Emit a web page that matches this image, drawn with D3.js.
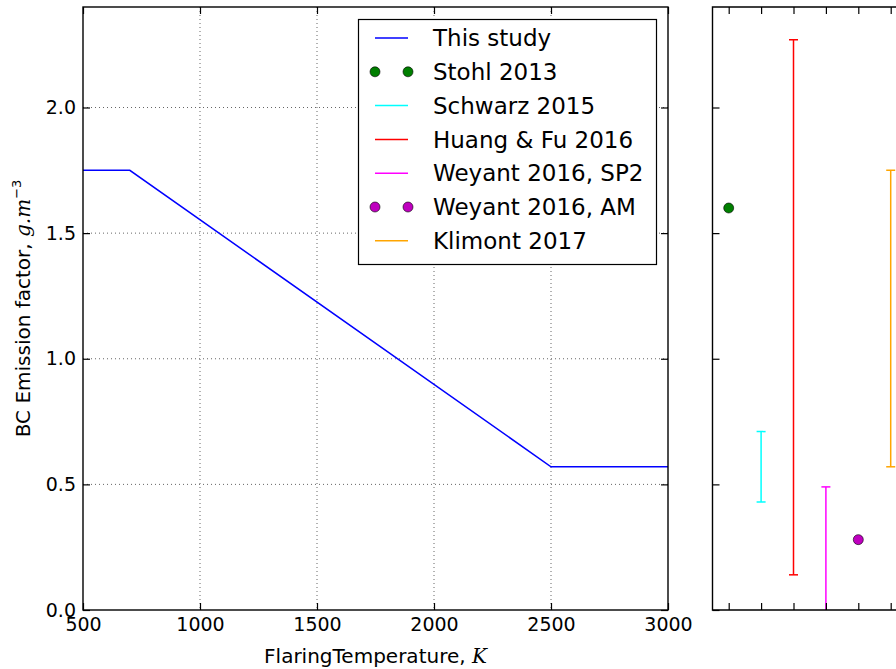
<!DOCTYPE html>
<html>
<head>
<meta charset="utf-8">
<script src="https://cdn.jsdelivr.net/npm/d3@7"></script>
<style>
  html, body { margin: 0; padding: 0; background: #fff; }
  svg { display: block; font-family: "DejaVu Sans", sans-serif; }
</style>
</head>
<body>
<div id="chart"></div>
<script>
// "This study" curve
const studyTemp = [500, 700, 2500, 3000];
const studyEF   = [1.75, 1.75, 0.57, 0.57];

// literature values (right panel), x position = index of reference
const pointNames  = ["Stohl 2013", "Weyant 2016, AM"];
const pointPos    = [1, 5];
const pointValues = [1.60, 0.28];
const pointColors = ["#007f00", "#bf00bf"];

const rangeNames  = ["Schwarz 2015", "Huang & Fu 2016", "Weyant 2016, SP2", "Klimont 2017"];
const rangePos    = [2, 3, 4, 6];
const rangeLow    = [0.43, 0.14, -0.05, 0.57];
const rangeHigh   = [0.71, 2.27, 0.49, 1.75];
const rangeColors = ["#00ffff", "#ff0000", "#ff00ff", "#ffa500"];

// legend order
const legendLabels = ["This study", "Stohl 2013", "Schwarz 2015", "Huang & Fu 2016",
                      "Weyant 2016, SP2", "Weyant 2016, AM", "Klimont 2017"];
const legendColors = ["#0000ff", "#007f00", "#00ffff", "#ff0000", "#ff00ff", "#bf00bf", "#ffa500"];
const legendKinds  = ["line", "point", "line", "line", "line", "point", "line"];

const xTicks = [500, 1000, 1500, 2000, 2500, 3000];
const yTicks = [0.0, 0.5, 1.0, 1.5, 2.0];
const refTicks = [1, 2, 3, 4, 5, 6];

const W = 896, H = 669;
const svg = d3.select("#chart").append("svg")
  .attr("width", W).attr("height", H);

const m = { left: 83, right: 668, top: 7, bottom: 610 };
const x = d3.scaleLinear().domain([500, 3000]).range([m.left, m.right]);
const y = d3.scaleLinear().domain([0, 2.4]).range([m.bottom, m.top]);

const r = { left: 712.5 };
const xr = d3.scaleLinear().domain([0.5, 7.5]).range([r.left, r.left + 7 * 32.4]);

const tickLen = 7;
const spine = "#000";

// ----- left panel grid -----
const grid = svg.append("g")
  .attr("stroke", "#666")
  .attr("stroke-width", 1)
  .attr("stroke-dasharray", "1,3");

grid.selectAll("line.gx")
  .data(xTicks.slice(1, -1))
  .enter().append("line")
  .attr("x1", d => x(d)).attr("x2", d => x(d))
  .attr("y1", m.top).attr("y2", m.bottom);

grid.selectAll("line.gy")
  .data(yTicks.slice(1))
  .enter().append("line")
  .attr("x1", m.left).attr("x2", m.right)
  .attr("y1", d => y(d)).attr("y2", d => y(d));

// ----- this study line -----
const line = d3.line()
  .x((d, i) => x(studyTemp[i]))
  .y(d => y(d));

svg.append("path")
  .datum(studyEF)
  .attr("d", line)
  .attr("fill", "none")
  .attr("stroke", "#0000ff")
  .attr("stroke-width", 1.5);

// ----- left panel axes (classic style, ticks inside on all sides) -----
const axB = svg.append("g")
  .attr("transform", `translate(0,${m.bottom})`)
  .call(d3.axisBottom(x).tickValues(xTicks).tickSize(-tickLen).tickPadding(8)
    .tickFormat(d3.format("d")).tickSizeOuter(0));
const axT = svg.append("g")
  .attr("transform", `translate(0,${m.top})`)
  .call(d3.axisTop(x).tickValues(xTicks).tickSize(-tickLen).tickFormat("").tickSizeOuter(0));
const axL = svg.append("g")
  .attr("transform", `translate(${m.left},0)`)
  .call(d3.axisLeft(y).tickValues(yTicks).tickSize(-tickLen).tickPadding(7)
    .tickFormat(d3.format(".1f")).tickSizeOuter(0));
const axR = svg.append("g")
  .attr("transform", `translate(${m.right},0)`)
  .call(d3.axisRight(y).tickValues(yTicks).tickSize(-tickLen).tickFormat("").tickSizeOuter(0));

[axB, axT, axL, axR].forEach(a => {
  a.select(".domain").remove();
  a.selectAll(".tick line").attr("stroke", spine).attr("stroke-width", 1.2);
  a.selectAll("text").attr("fill", "#000").attr("font-size", 19)
    .attr("font-family", "DejaVu Sans");
});

svg.append("rect")
  .attr("x", m.left).attr("y", m.top)
  .attr("width", m.right - m.left).attr("height", m.bottom - m.top)
  .attr("fill", "none").attr("stroke", spine).attr("stroke-width", 1.4);

// ----- axis labels -----
const xl = svg.append("text")
  .attr("x", (m.left + m.right) / 2)
  .attr("y", 663)
  .attr("text-anchor", "middle")
  .attr("font-size", 20);
xl.append("tspan").text("FlaringTemperature, ");
xl.append("tspan").attr("font-family", "DejaVu Serif").attr("font-style", "italic").text("K");

const yl = svg.append("text")
  .attr("transform", `translate(30,${(m.top + m.bottom) / 2}) rotate(-90)`)
  .attr("text-anchor", "middle")
  .attr("font-size", 20);
yl.append("tspan").text("BC Emission factor, ");
yl.append("tspan").attr("font-family", "DejaVu Serif").attr("font-style", "italic").text("g.m");
yl.append("tspan").attr("font-size", 13).attr("dy", "-0.7em").text("−3");

// ----- legend -----
const lg = svg.append("g");
lg.append("rect")
  .attr("x", 358.5).attr("y", 19.5)
  .attr("width", 298).attr("height", 245)
  .attr("fill", "#fff").attr("stroke", "#000").attr("stroke-width", 1.2);

const rowY = i => 38 + i * 33.8;
legendLabels.forEach((lab, i) => {
  const cy = rowY(i);
  if (legendKinds[i] === "line") {
    lg.append("line")
      .attr("x1", 375).attr("x2", 408)
      .attr("y1", cy).attr("y2", cy)
      .attr("stroke", legendColors[i]).attr("stroke-width", 1.5);
  } else {
    [375, 408].forEach(px => {
      lg.append("circle")
        .attr("cx", px).attr("cy", cy).attr("r", 5)
        .attr("fill", legendColors[i]).attr("stroke", "#000").attr("stroke-width", 0.6);
    });
  }
  lg.append("text")
    .attr("x", 433).attr("y", cy)
    .attr("dy", "0.36em")
    .attr("font-size", 23)
    .attr("fill", "#000")
    .text(lab);
});

// ----- right panel -----
svg.append("clipPath").attr("id", "rclip")
  .append("rect").attr("x", r.left).attr("y", m.top)
  .attr("width", W - r.left).attr("height", m.bottom - m.top);

const rp = svg.append("g").attr("clip-path", "url(#rclip)");

// error ranges
rangeNames.forEach((n, i) => {
  const cx = xr(rangePos[i]);
  const g = rp.append("g").attr("stroke", rangeColors[i]).attr("stroke-width", 1.5);
  g.append("line")
    .attr("x1", cx).attr("x2", cx)
    .attr("y1", y(rangeLow[i])).attr("y2", y(rangeHigh[i]));
  [rangeLow[i], rangeHigh[i]].forEach(v => {
    g.append("line")
      .attr("x1", cx - 4.5).attr("x2", cx + 4.5)
      .attr("y1", y(v)).attr("y2", y(v));
  });
});

// points
rp.selectAll("circle.pt")
  .data(pointValues)
  .enter().append("circle")
  .attr("cx", (d, i) => xr(pointPos[i]))
  .attr("cy", d => y(d))
  .attr("r", 5)
  .attr("fill", (d, i) => pointColors[i])
  .attr("stroke", "#000").attr("stroke-width", 0.6);

const raB = svg.append("g")
  .attr("transform", `translate(0,${m.bottom})`)
  .call(d3.axisBottom(xr).tickValues(refTicks).tickSize(-tickLen).tickFormat("").tickSizeOuter(0));
const raT = svg.append("g")
  .attr("transform", `translate(0,${m.top})`)
  .call(d3.axisTop(xr).tickValues(refTicks).tickSize(-tickLen).tickFormat("").tickSizeOuter(0));
const raL = svg.append("g")
  .attr("transform", `translate(${r.left},0)`)
  .call(d3.axisLeft(y).tickValues(yTicks).tickSize(-tickLen).tickFormat("").tickSizeOuter(0));

[raB, raT, raL].forEach(a => {
  a.select(".domain").remove();
  a.selectAll(".tick line").attr("stroke", spine).attr("stroke-width", 1.2);
});

svg.append("path")
  .attr("d", `M${W + 5},${m.top}H${r.left}V${m.bottom}H${W + 5}`)
  .attr("fill", "none").attr("stroke", spine).attr("stroke-width", 1.4);
</script>
</body>
</html>
